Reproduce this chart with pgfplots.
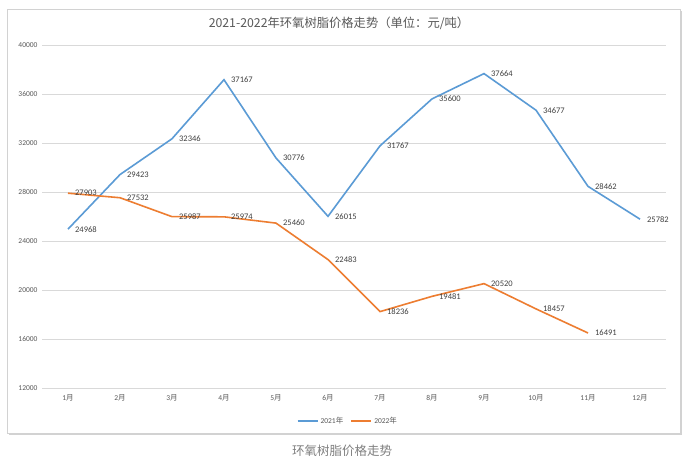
\documentclass[border=0pt]{standalone}
\usepackage{pgfplots}
\pgfplotsset{compat=1.18}
\usepackage{fontspec}
\setmainfont{Carlito}
\newfontfamily\cjk{Noto Sans CJK SC}
\usetikzlibrary{shadows}
\definecolor{cblue}{HTML}{5B9BD5}
\definecolor{corange}{HTML}{ED7D31}
\definecolor{tickc}{HTML}{595959}
\definecolor{labc}{HTML}{404040}
\definecolor{gridc}{HTML}{D9D9D9}
\begin{document}
\begin{tikzpicture}
\path (0pt,0pt) rectangle (695pt,466pt);
\fill[white] (0pt,0pt) rectangle (695pt,466pt);
\draw[gray!35, fill=white, drop shadow={opacity=0.35, shadow xshift=2pt, shadow yshift=-2pt}] (7pt,33pt) rectangle (680pt,457pt);
\node[text=tickc, font=\cjk\fontsize{12.3}{14}\selectfont] at (339pt,443pt) {2021-2022年环氧树脂价格走势（单位：元/吨）};
\node[text=gray, font=\cjk\fontsize{12.5}{14}\selectfont] at (342pt,15pt) {环氧树脂价格走势};
\begin{axis}[
  at={(42pt,78pt)}, anchor=south west,
  scale only axis, width=624pt, height=343pt,
  xmin=-0.5, xmax=11.5, ymin=12000, ymax=40000,
  ytick={12000,16000,...,40000},
  scaled y ticks=false,
  /pgf/number format/1000 sep={},
  /pgf/number format/assume math mode=true,
  xtick={0,...,11},
  xticklabels={1{\cjk 月},2{\cjk 月},3{\cjk 月},4{\cjk 月},5{\cjk 月},6{\cjk 月},7{\cjk 月},8{\cjk 月},9{\cjk 月},10{\cjk 月},11{\cjk 月},12{\cjk 月}},
  axis line style={draw=none},
  major tick length=0pt,
  ymajorgrids, grid style={gridc, line width=0.6pt},
  tick label style={text=tickc, font=\fontsize{7.5}{9}\selectfont},
  yticklabel style={xshift=-1pt},
  xticklabel style={yshift=-3pt},
  nodes near coords,
  every node near coord/.append style={anchor=west, xshift=3pt, text=labc, font=\fontsize{8.5}{10}\selectfont},
  legend style={at={(0.49,-0.096)}, anchor=center, draw=none, fill=none, legend columns=2,
    font=\fontsize{7.5}{9}\selectfont, text=tickc, /tikz/every even column/.append style={column sep=5pt},
    inner xsep=0pt, /tikz/every odd column/.append style={}},
  legend image code/.code={\draw[#1, line width=2pt] (0pt,0pt) -- (20pt,0pt);},
  legend cell align=left,
]
\addplot[cblue, line width=1.6pt, mark=none] coordinates {
(0,24968) (1,29423) (2,32346) (3,37167) (4,30776) (5,26015) (6,31767) (7,35600) (8,37664) (9,34677) (10,28462) (11,25782)};
\addlegendentry{2021{\cjk 年}}
\addplot[corange, line width=1.6pt, mark=none] coordinates {
(0,27903) (1,27532) (2,25987) (3,25974) (4,25460) (5,22483) (6,18236) (7,19481) (8,20520) (9,18457) (10,16491)};
\addlegendentry{2022{\cjk 年}}
\end{axis}
\end{tikzpicture}
\end{document}
